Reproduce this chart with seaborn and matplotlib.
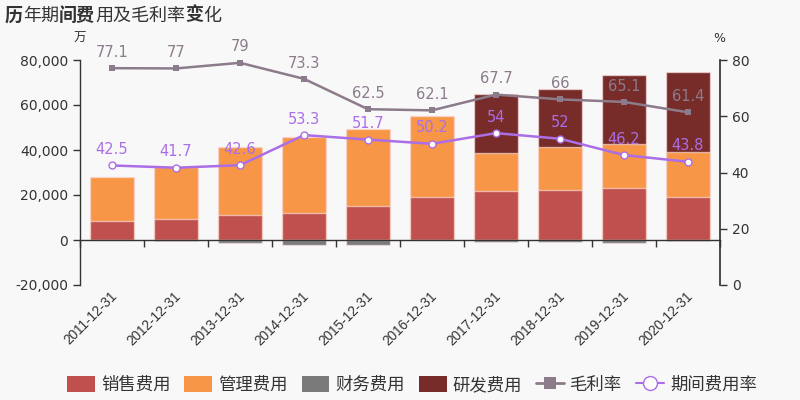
import matplotlib
matplotlib.use("Agg")
import matplotlib.pyplot as plt
import seaborn as sns
import numpy as np
import pandas as pd
from matplotlib.patches import Patch
from matplotlib.lines import Line2D
from matplotlib.ticker import FuncFormatter

# ---------------- data ----------------
dates = ["2011-12-31", "2012-12-31", "2013-12-31", "2014-12-31", "2015-12-31",
         "2016-12-31", "2017-12-31", "2018-12-31", "2019-12-31", "2020-12-31"]
sales = [8600, 9300, 11200, 12100, 15000, 19300, 21900, 22400, 23200, 19300]       # 销售费用
admin = [19300, 23300, 30100, 33700, 34300, 36000, 16900, 19100, 19500, 19800]     # 管理费用
finance = [-200, -500, -1500, -2200, -2200, -100, -900, -800, -1200, -300]         # 财务费用
rnd = [0, 0, 0, 0, 0, 0, 25900, 25800, 30800, 35400]                              # 研发费用
gross_margin = [77.1, 77, 79, 73.3, 62.5, 62.1, 67.7, 66, 65.1, 61.4]              # 毛利率
expense_rate = [42.5, 41.7, 42.6, 53.3, 51.7, 50.2, 54, 52, 46.2, 43.8]            # 期间费用率
series_names = ["销售费用", "管理费用", "财务费用", "研发费用", "毛利率", "期间费用率"]
title_parts = [("历", "bold"), ("年期", "normal"), ("间费", "bold"),
               ("用及毛利率", "normal"), ("变", "bold"), ("化", "normal")]

# ---------------- style ----------------
BG = "#f8f8f8"
C_SALES = "#c0504d"
C_ADMIN = "#f79646"
C_FIN = "#7a7a7a"
C_RND = "#772c2a"
C_GM = "#8b7b8b"
C_ER = "#ab6ee6"
TXT = "#333333"
CJK = ["Noto Sans CJK SC", "DejaVu Sans"]

sns.set_theme(style="ticks")
plt.rcParams["font.family"] = ["DejaVu Sans", "Noto Sans CJK SC"]
plt.rcParams["axes.unicode_minus"] = False

fig = plt.figure(figsize=(8, 4), dpi=100, facecolor=BG)
ax = fig.add_axes([0.1, 0.2875, 0.8, 0.5625])
ax.set_facecolor(BG)

df = pd.DataFrame({
    "date": dates,
    "s": sales,
    "sa": np.array(sales) + np.array(admin),
    "sar": np.array(sales) + np.array(admin) + np.array(rnd),
    "f": finance,
})

edge = (1, 0.92, 0.92, 0.6)
common = dict(x="date", width=0.7, saturation=1, edgecolor=edge, linewidth=1, ax=ax, errorbar=None)
sns.barplot(data=df, y="sar", color=C_RND, **common)
sns.barplot(data=df, y="sa", color=C_ADMIN, **common)
sns.barplot(data=df, y="s", color=C_SALES, **common)
sns.barplot(data=df, y="f", color=C_FIN, **common)

ax.set_xlabel("")
ax.set_ylabel("")
ax.set_ylim(-20000, 80000)
ax.set_yticks(np.arange(-20000, 80001, 20000))
ax.yaxis.set_major_formatter(FuncFormatter(lambda v, p: f"{int(v):,}"))
ax.set_xlim(-0.5, 9.5)
ax.set_xticks(np.arange(-0.5, 10, 1))
ax.set_xticklabels([])
ax.spines["bottom"].set_position(("data", 0))
for s in ["top", "right"]:
    ax.spines[s].set_visible(False)
for s in ["left", "bottom"]:
    ax.spines[s].set_color(TXT)
    ax.spines[s].set_linewidth(1)
ax.tick_params(axis="x", direction="out", length=5, color=TXT, width=1)
ax.tick_params(axis="y", direction="out", length=5, color=TXT, labelcolor=TXT, labelsize=10, width=1)

for i, d in enumerate(dates):
    ax.text(i + 0.04, -0.04, d, transform=ax.get_xaxis_transform(), rotation=45,
            rotation_mode="anchor", ha="right", va="center", fontsize=9.8, color=TXT,
            family="Liberation Sans")

# ---------------- lines ----------------
ax2 = ax.twinx()
ax2.set_facecolor("none")
xs = np.arange(len(dates))
sns.lineplot(x=xs, y=gross_margin, ax=ax2, color=C_GM, marker="s", markersize=4,
             markeredgewidth=0, linewidth=1.8)
sns.lineplot(x=xs, y=expense_rate, ax=ax2, color=C_ER, marker="o", markersize=5,
             markerfacecolor="white", markeredgecolor=C_ER, markeredgewidth=1, linewidth=1.8)
for i, v in enumerate(gross_margin):
    ax2.annotate(f"{v:g}", (i, v), xytext=(0, 6), textcoords="offset points",
                 ha="center", va="bottom", color=C_GM, fontsize=10.5)
for i, v in enumerate(expense_rate):
    ax2.annotate(f"{v:g}", (i, v), xytext=(0, 6), textcoords="offset points",
                 ha="center", va="bottom", color=C_ER, fontsize=10.5)
ax2.set_ylim(0, 80)
ax2.set_yticks(np.arange(0, 81, 20))
ax2.set_xlim(-0.5, 9.5)
ax2.set_ylabel("")
for s in ["top", "left", "bottom"]:
    ax2.spines[s].set_visible(False)
ax2.spines["right"].set_color(TXT)
ax2.tick_params(axis="y", direction="out", length=5, color=TXT, labelcolor=TXT, labelsize=10, width=1)

# unit labels
fig.text(80 / 800, 1 - 38 / 400, "万", ha="center", va="center", fontsize=9, color=TXT, family=CJK)
fig.text(719 / 800, 1 - 38 / 400, "%", ha="center", va="center", fontsize=9, color=TXT)

# ---------------- title (mixed weights) ----------------
t = fig.text(5 / 800, 1 - 15 / 400, title_parts[0][0], fontweight=title_parts[0][1],
             fontsize=13, color=TXT, va="center", ha="left", family=CJK)
for txt, w in title_parts[1:]:
    t = ax.annotate(txt, xy=(1, 0), xycoords=t, ha="left", va="bottom", fontweight=w,
                    fontsize=13, color=TXT, family=CJK, annotation_clip=False)

# ---------------- legend ----------------
handles = [
    Patch(facecolor=C_SALES, edgecolor="none"),
    Patch(facecolor=C_ADMIN, edgecolor="none"),
    Patch(facecolor=C_FIN, edgecolor="none"),
    Patch(facecolor=C_RND, edgecolor="none"),
    Line2D([], [], color=C_GM, marker="s", markersize=8, markeredgewidth=0, linewidth=2),
    Line2D([], [], color=C_ER, marker="o", markersize=10, markerfacecolor="white",
           markeredgecolor=C_ER, markeredgewidth=1, linewidth=1.5),
]
fig.legend(handles, series_names, loc="center", bbox_to_anchor=(0.515, 0.0375), ncol=6,
           frameon=False, prop={"family": CJK, "size": 12.5}, handlelength=1.6,
           handleheight=1.0, handletextpad=0.35, columnspacing=0.8, labelcolor=TXT)

fig.savefig("out.png", dpi=100, facecolor=BG)
